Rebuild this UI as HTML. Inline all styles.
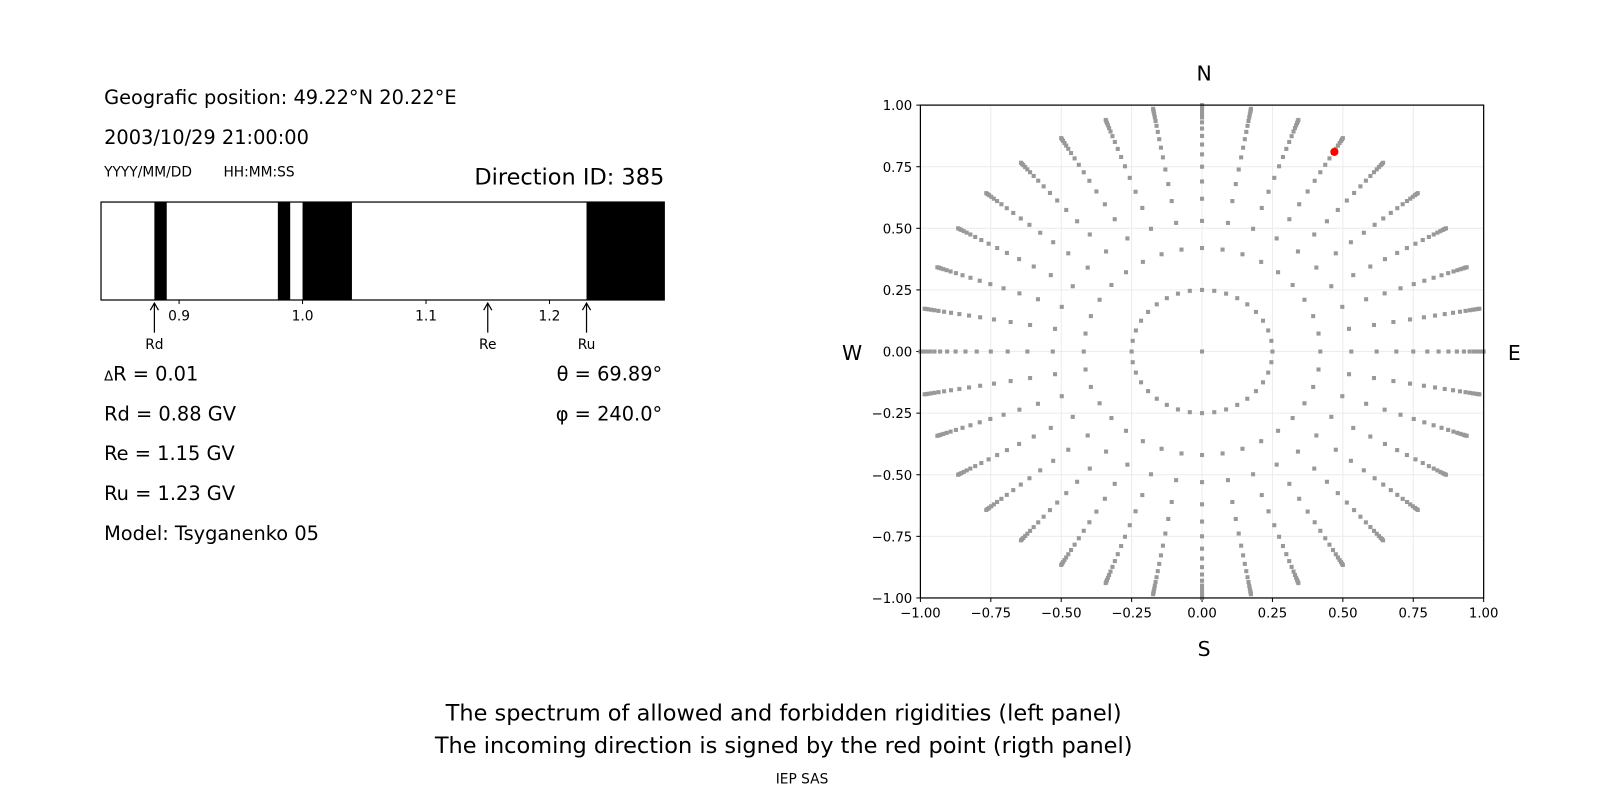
<!DOCTYPE html>
<html><head><meta charset="utf-8"><style>
body{margin:0;background:#fff;font-family:"DejaVu Sans","Liberation Sans",sans-serif;}
svg{display:block}
</style></head><body>
<svg width="1600" height="800" xmlns="http://www.w3.org/2000/svg" font-family="DejaVu Sans, Liberation Sans, sans-serif">
<g transform="scale(1.0204)">
<g>
<text x="102" y="102" font-size="19">Geografic position: 49.22°N 20.22°E</text>
<text x="102" y="141" font-size="19">2003/10/29 21:00:00</text>
<text x="102" y="173" font-size="13.5">YYYY/MM/DD</text>
<text x="219" y="173" font-size="13.5">HH:MM:SS</text>
<text x="651" y="181" font-size="22" text-anchor="end">Direction ID: 385</text>
<g id="spec"></g>
<text x="102" y="373" font-size="19"><tspan font-size="13">Δ</tspan>R = 0.01</text>
<text x="102" y="412" font-size="19">Rd = 0.88 GV</text>
<text x="102" y="451" font-size="19">Re = 1.15 GV</text>
<text x="102" y="490" font-size="19">Ru = 1.23 GV</text>
<text x="102" y="529" font-size="19">Model: Tsyganenko 05</text>
<text x="649" y="373" font-size="19" text-anchor="end">θ = 69.89°</text>
<text x="649" y="412" font-size="19" text-anchor="end">φ = 240.0°</text>
</g>
<g id="polar"></g>
<text x="1180" y="79" font-size="20" text-anchor="middle">N</text>
<text x="1180" y="643" font-size="20" text-anchor="middle">S</text>
<text x="835" y="353" font-size="20" text-anchor="middle">W</text>
<text x="1484" y="353" font-size="20" text-anchor="middle">E</text>
<text x="768" y="706" font-size="22" text-anchor="middle">The spectrum of allowed and forbidden rigidities (left panel)</text>
<text x="768" y="738" font-size="22" text-anchor="middle">The incoming direction is signed by the red point (rigth panel)</text>
<text x="786" y="768" font-size="13.5" text-anchor="middle">IEP SAS</text>
</g>
</svg>
<script>
const NS="http://www.w3.org/2000/svg";
const forbiddenBands=[[0.88,0.89],[0.98,0.99],[1.0,1.04],[1.23,1.30]];
const specTicks=[0.9,1.0,1.1,1.2];
const specTickLabels=["0.9","1.0","1.1","1.2"];
const markerNames=["Rd","Re","Ru"];
const markerValues=[0.88,1.15,1.23];
const rayAngles=[];for(let a=0;a<360;a+=10)rayAngles.push(a);
const rayRadii=[0.25,0.42,0.53,0.62,0.69,0.75,0.80,0.84,0.875,0.905,0.93,0.95,0.965,0.977,0.987,0.994,1.0];
const polarTicks=[-1,-0.75,-0.5,-0.25,0,0.25,0.5,0.75,1];
const redPoint=[0.47,0.81];

function mk(p,t,a,n,txt){const e=document.createElementNS(NS,t);for(const k in a)e.setAttribute(k,a[k]);


if(txt!==undefined)e.textContent=txt;p.appendChild(e);return e;}

const spec=document.getElementById('spec');
const sx=v=>296.5+(v-1.0)*1210, L=99,R=651,T=198,B=294;
const clip=v=>Math.max(L,Math.min(R,v));
forbiddenBands.forEach(b=>{mk(spec,'rect',{x:clip(sx(b[0])),y:T,width:clip(sx(b[1]))-clip(sx(b[0])),height:B-T,fill:'#000'},'forbidden-band');});
mk(spec,'rect',{x:L,y:T,width:R-L,height:B-T,fill:'none',stroke:'#000','stroke-width':1.2},'spectrum-frame');
specTicks.forEach((t,i)=>{const x=sx(t);mk(spec,'line',{x1:x,x2:x,y1:B,y2:B+4,stroke:'#000'},'spectrum-tick');
mk(spec,'text',{x:x,y:B+20,'font-size':13.5,'text-anchor':'middle'},'spectrum-tick-label',specTickLabels[i]);});
markerValues.forEach((v,i)=>{const x=sx(v);
mk(spec,'line',{x1:x,x2:x,y1:B+3,y2:B+32,stroke:'#000','stroke-width':1.2},'marker-arrow');
mk(spec,'path',{d:`M${x-4},${B+10} L${x},${B+3} L${x+4},${B+10}`,fill:'none',stroke:'#000','stroke-width':1.2},'marker-arrowhead');
mk(spec,'text',{x:x,y:B+48,'font-size':13.5,'text-anchor':'middle'},'marker-label-'+markerNames[i].toLowerCase(),markerNames[i]);});

const pol=document.getElementById('polar');
const X0=902,X1=1454,Y0=103,Y1=586;
const px=v=>X0+(v+1)/2*(X1-X0), py=v=>Y1-(v+1)/2*(Y1-Y0);
polarTicks.forEach(t=>{
mk(pol,'line',{x1:px(t),x2:px(t),y1:Y0,y2:Y1,stroke:'#ececec','stroke-width':1},'grid-x');
mk(pol,'line',{x1:X0,x2:X1,y1:py(t),y2:py(t),stroke:'#ececec','stroke-width':1},'grid-y');
mk(pol,'line',{x1:px(t),x2:px(t),y1:Y1,y2:Y1+4,stroke:'#000'},'x-tick');
mk(pol,'line',{x1:X0-4,x2:X0,y1:py(t),y2:py(t),stroke:'#000'},'y-tick');
mk(pol,'text',{x:px(t),y:Y1+19,'font-size':13,'text-anchor':'middle'},'x-tick-label',t.toFixed(2).replace('-','−'));
mk(pol,'text',{x:X0-8,y:py(t)+5,'font-size':13,'text-anchor':'end'},'y-tick-label',t.toFixed(2).replace('-','−'));});
mk(pol,'rect',{x:px(0)-2,y:py(0)-2,width:4,height:4,fill:'#999'},'direction-point');
rayAngles.forEach(a=>{const r_=a*Math.PI/180;rayRadii.forEach(r=>{
const x=r*Math.sin(r_),y=r*Math.cos(r_);
mk(pol,'rect',{x:px(x)-2,y:py(y)-2,width:4,height:4,fill:'#999'},'direction-point');});});
mk(pol,'circle',{cx:px(redPoint[0]),cy:py(redPoint[1]),r:4,fill:'#f00'},'incoming-direction-point');
mk(pol,'rect',{x:X0,y:Y0,width:X1-X0,height:Y1-Y0,fill:'none',stroke:'#000','stroke-width':1.2},'plot-frame');
</script>
</body></html>
